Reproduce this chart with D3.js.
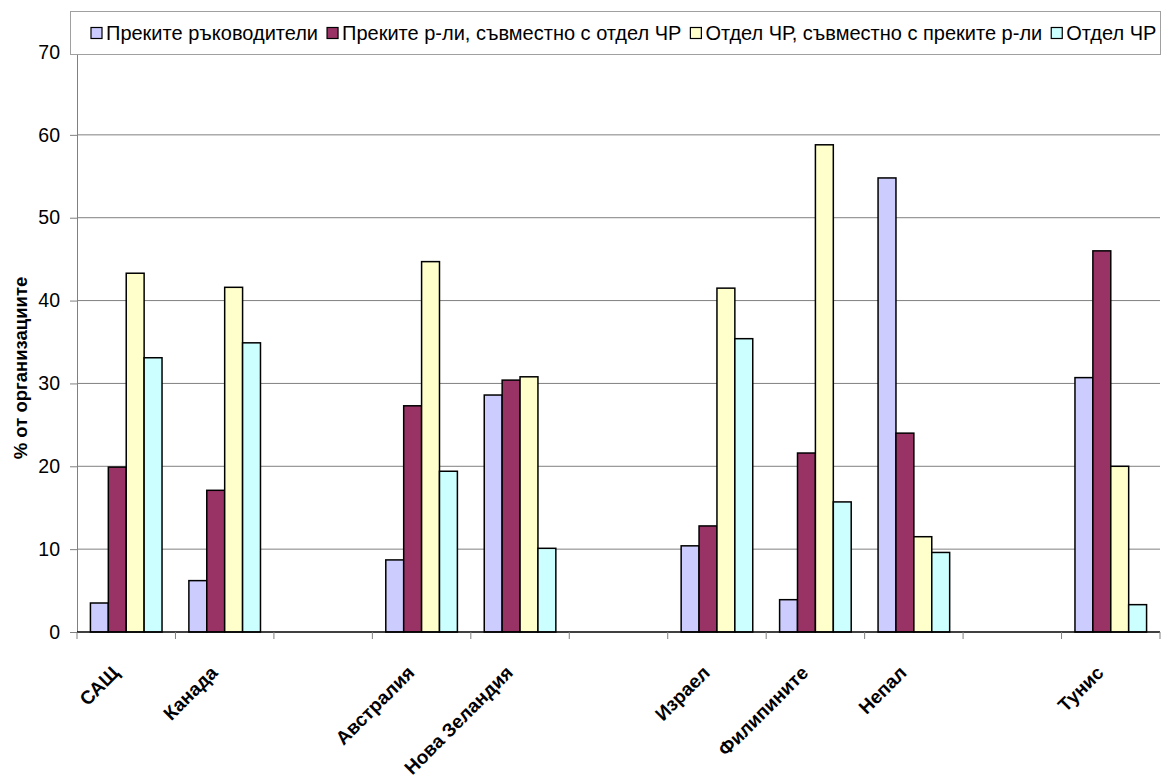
<!DOCTYPE html>
<html>
<head>
<meta charset="utf-8">
<script src="https://cdn.jsdelivr.net/npm/d3@7"></script>
<style>
  body { margin: 0; background: #fff; }
  svg text { font-family: Arial, "Liberation Sans", sans-serif; }
</style>
</head>
<body>
<svg id="chart" width="1163" height="780"></svg>
<script>
// categories ('' = empty slot on the axis)
const countries = ['САЩ', 'Канада', '', 'Австралия', 'Нова Зеландия', '', 'Израел', 'Филипините', 'Непал', '', 'Тунис'];
const seriesNames = [
  'Преките ръководители',
  'Преките р-ли, съвместно с отдел ЧР',
  'Отдел ЧР, съвместно с преките р-ли',
  'Отдел ЧР'
];
const seriesColors = ['#CCCCFF', '#993366', '#FFFFCC', '#CCFFFF'];

// values per series, aligned with countries (null = no bar)
const direct      = [3.5, 6.2, null, 8.7, 28.6, null, 10.4, 3.9, 54.8, null, 30.7];
const directWithHR= [19.9, 17.1, null, 27.3, 30.4, null, 12.8, 21.6, 24.0, null, 46.0];
const hrWithDirect= [43.3, 41.6, null, 44.7, 30.8, null, 41.5, 58.8, 11.5, null, 20.0];
const hrOnly      = [33.1, 34.9, null, 19.4, 10.1, null, 35.4, 15.7, 9.6, null, 3.3];
const yTicks = [0, 10, 20, 30, 40, 50, 60, 70];

const series = [direct, directWithHR, hrWithDirect, hrOnly];

const svg = d3.select('#chart');
const mL = 77, mR = 1160, mT = 52, mB = 632;

const x = d3.scaleBand().domain(d3.range(countries.length)).range([mL, mR]);
const bw = x.bandwidth() / 5.5;   // gap width 150%
const xs = d3.scaleBand().domain(d3.range(series.length))
  .range([bw * 0.75, bw * 0.75 + bw * 4]);
const y = d3.scaleLinear().domain([0, 70]).range([mB, mT]);

// grid lines
svg.append('g').selectAll('line').data(yTicks.filter(d => d > 0)).join('line')
  .attr('x1', mL).attr('x2', mR)
  .attr('y1', d => y(d)).attr('y2', d => y(d))
  .attr('stroke', '#808080').attr('stroke-width', 1);

// bars
const groups = svg.append('g').selectAll('g').data(series).join('g')
  .attr('fill', (d, i) => seriesColors[i]);
groups.each(function (vals, si) {
  d3.select(this).selectAll('rect')
    .data(vals.map((v, ci) => ({ v, ci })).filter(d => d.v != null))
    .join('rect')
      .attr('x', d => x(d.ci) + xs(si))
      .attr('width', xs.bandwidth())
      .attr('y', d => y(d.v))
      .attr('height', d => y(0) - y(d.v))
      .attr('stroke', '#000').attr('stroke-width', 1.5);
});

// y axis
const yAxis = svg.append('g').attr('transform', `translate(${mL},0)`)
  .call(d3.axisLeft(y).tickValues(yTicks).tickSize(7).tickPadding(10));
yAxis.select('.domain').attr('stroke', '#808080');
yAxis.selectAll('.tick line').attr('stroke', '#808080');
yAxis.selectAll('text').attr('font-size', 19.5).attr('fill', '#000')
  .style('font-family', 'Arial, "Liberation Sans", sans-serif');

// x axis
const xg = svg.append('g');
xg.append('line').attr('x1', mL).attr('x2', mR)
  .attr('y1', mB).attr('y2', mB).attr('stroke', '#000').attr('stroke-width', 1.5);
xg.selectAll('line.tk').data(d3.range(countries.length + 1)).join('line')
  .attr('class', 'tk')
  .attr('x1', d => mL + d * x.step()).attr('x2', d => mL + d * x.step())
  .attr('y1', mB).attr('y2', mB + 7).attr('stroke', '#808080');
xg.selectAll('text').data(countries.map((c, i) => ({ c, i })).filter(d => d.c)).join('text')
  .attr('transform', d => `translate(${x(d.i) + x.bandwidth() / 2 - 6},${mB + 42}) rotate(-45)`)
  .attr('text-anchor', 'end')
  .attr('font-size', 19).attr('font-weight', 'bold')
  .text(d => d.c);

// y label
svg.append('text')
  .attr('transform', 'translate(27,368) rotate(-90)')
  .attr('text-anchor', 'middle')
  .attr('font-size', 18.5).attr('font-weight', 'bold')
  .text('% от организациите');

// legend
const lg = svg.append('g');
lg.append('rect').attr('x', 70.5).attr('y', 11.5).attr('width', 1090).attr('height', 43)
  .attr('fill', '#fff').attr('stroke', '#A0A0A0');
let lx = 91;
seriesNames.forEach((name, i) => {
  lg.append('rect').attr('x', lx).attr('y', 27.5).attr('width', 11).attr('height', 11)
    .attr('fill', seriesColors[i]).attr('stroke', '#000').attr('stroke-width', 1.2);
  const t = lg.append('text').attr('x', lx + 15).attr('y', 40)
    .attr('font-size', 20).text(name);
  lx += 15 + t.node().getComputedTextLength() + 9;
});
</script>
</body>
</html>
